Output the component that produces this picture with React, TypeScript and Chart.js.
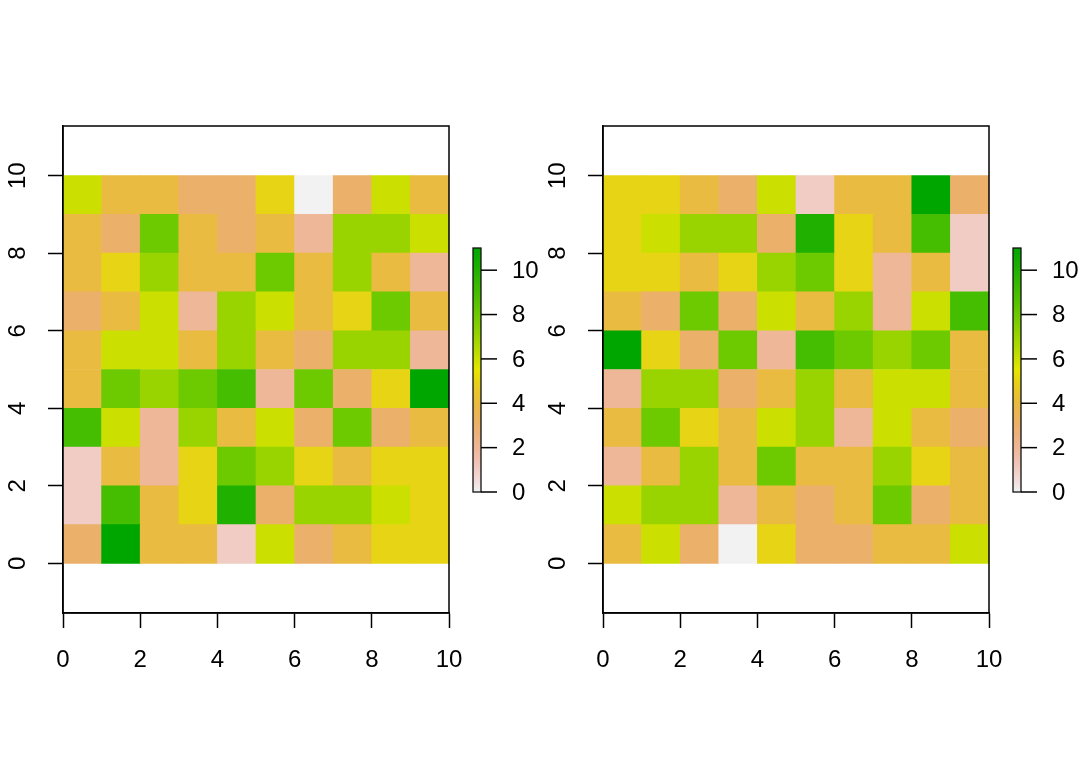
import React, { useEffect, useRef } from "react";
import { Chart, registerables } from "chart.js";
Chart.register(...registerables);

// cell left edges (x) and cell bottom edges (y, top row first)
const cellX = [0, 1, 2, 3, 4, 5, 6, 7, 8, 9];
const cellY = [9, 8, 7, 6, 5, 4, 3, 2, 1, 0];

const leftValues = [
  [6, 4, 4, 3, 3, 5, 0, 3, 6, 4],
  [4, 3, 8, 4, 3, 4, 2, 7, 7, 6],
  [4, 5, 7, 4, 4, 8, 4, 7, 4, 2],
  [3, 4, 6, 2, 7, 6, 4, 5, 8, 4],
  [4, 6, 6, 4, 7, 4, 3, 7, 7, 2],
  [4, 8, 7, 8, 9, 2, 8, 3, 5, 11],
  [9, 6, 2, 7, 4, 6, 3, 8, 3, 4],
  [1, 4, 2, 5, 8, 7, 5, 4, 5, 5],
  [1, 9, 4, 5, 10, 3, 7, 7, 6, 5],
  [3, 11, 4, 4, 1, 6, 3, 4, 5, 5],
];

const rightValues = [
  [5, 5, 4, 3, 6, 1, 4, 4, 11, 3],
  [5, 6, 7, 7, 3, 10, 5, 4, 9, 1],
  [5, 5, 4, 5, 7, 8, 5, 2, 4, 1],
  [4, 3, 8, 3, 6, 4, 7, 2, 6, 9],
  [11, 5, 3, 8, 2, 9, 8, 7, 8, 4],
  [2, 7, 7, 3, 4, 7, 4, 6, 6, 4],
  [4, 8, 5, 4, 6, 7, 2, 6, 4, 3],
  [2, 4, 7, 4, 8, 4, 4, 7, 5, 4],
  [6, 7, 7, 2, 4, 3, 4, 8, 3, 4],
  [4, 6, 3, 0, 5, 3, 3, 4, 4, 6],
];

const axisTicks = [0, 2, 4, 6, 8, 10];
const legendTicks = [0, 2, 4, 6, 8, 10];
const zMin = 0;
const zMax = 11;
const xMin = 0;
const xMax = 10;
const yMin = -1.28;
const yMax = 11.28;

const FONT = "'Liberation Sans', Arial, Helvetica, sans-serif";
const FONT_SIZE = 24;

function hsvToRgb(h: number, s: number, v: number): string {
  const c = v * s;
  const hp = h / 60;
  const x = c * (1 - Math.abs((hp % 2) - 1));
  let r = 0, g = 0, b = 0;
  if (hp < 1) { r = c; g = x; }
  else if (hp < 2) { r = x; g = c; }
  else if (hp < 3) { g = c; b = x; }
  else if (hp < 4) { g = x; b = c; }
  else if (hp < 5) { r = x; b = c; }
  else { r = c; b = x; }
  const m = v - c;
  const to = (n: number) => Math.round((n + m) * 255);
  return `rgb(${to(r)},${to(g)},${to(b)})`;
}

// R terrain.colors, reversed (low = light grey, high = green)
function terrainColor(v: number): string {
  const t = Math.min(1, Math.max(0, (v - zMin) / (zMax - zMin)));
  const p = 1 - t;
  if (p <= 0.5) {
    const q = p / 0.5;
    return hsvToRgb(120 - 60 * q, 1, 0.65 + 0.25 * q);
  }
  const q = (p - 0.5) / 0.5;
  return hsvToRgb(60 - 60 * q, 1 - q, 0.9 + 0.05 * q);
}

const framePlugin = {
  id: "frame",
  afterDraw(chart: any) {
    const ctx = chart.ctx;
    const a = chart.chartArea;
    ctx.save();
    ctx.strokeStyle = "#000";
    ctx.lineWidth = 1.5;
    ctx.strokeRect(a.left, a.top, a.right - a.left, a.bottom - a.top);

    // rotated y tick labels
    const ys = chart.scales.y;
    ctx.fillStyle = "#000";
    ctx.font = `${FONT_SIZE}px ${FONT}`;
    ctx.textAlign = "center";
    ctx.textBaseline = "alphabetic";
    axisTicks.forEach((t) => {
      const py = ys.getPixelForValue(t);
      ctx.save();
      ctx.translate(a.left - 38, py);
      ctx.rotate(-Math.PI / 2);
      ctx.fillText(String(t), 0, 0);
      ctx.restore();
    });

    // colour legend
    const barL = a.right + 24;
    const barW = 8;
    const lTop = 248;
    const lBot = 492;
    const grad = ctx.createLinearGradient(0, lBot, 0, lTop);
    const steps = 60;
    for (let i = 0; i <= steps; i++) {
      const v = zMin + (i / steps) * (zMax - zMin);
      grad.addColorStop(i / steps, terrainColor(v));
    }
    ctx.fillStyle = grad;
    ctx.fillRect(barL, lTop, barW, lBot - lTop);
    ctx.strokeStyle = "#111";
    ctx.lineWidth = 1.3;
    ctx.strokeRect(barL, lTop, barW, lBot - lTop);
    ctx.strokeStyle = "#000";
    ctx.lineWidth = 1.5;
    ctx.fillStyle = "#000";
    ctx.textAlign = "left";
    ctx.textBaseline = "middle";
    legendTicks.forEach((t) => {
      const py = lBot - ((t - zMin) / (zMax - zMin)) * (lBot - lTop);
      ctx.beginPath();
      ctx.moveTo(barL + barW, py);
      ctx.lineTo(barL + barW + 16, py);
      ctx.stroke();
      ctx.fillText(String(t), barL + barW + 31, py + 1);
    });
    ctx.restore();
  },
};

function Panel({ values, left }: { values: number[][]; left: number }) {
  const ref = useRef<HTMLCanvasElement | null>(null);
  useEffect(() => {
    if (!ref.current) return;
    const data: any[] = [];
    const colors: string[] = [];
    values.forEach((row, ri) =>
      row.forEach((v, ci) => {
        data.push({ x: [cellX[ci], cellX[ci] + 1], y: cellY[ri] + 0.5 });
        colors.push(terrainColor(v));
      })
    );
    const gridOpts = {
      display: true,
      drawOnChartArea: false,
      drawTicks: true,
      tickLength: 15,
      tickColor: "#000",
      tickWidth: 1.5,
      offset: false,
    };
    const chart = new Chart(ref.current, {
      type: "bar",
      data: {
        datasets: [
          {
            data,
            backgroundColor: colors,
            borderWidth: 0,
            borderSkipped: false,
            barPercentage: 1,
            categoryPercentage: 1,
            grouped: false,
          } as any,
        ],
      },
      options: {
        indexAxis: "y",
        responsive: false,
        animation: false,
        events: [],
        layout: { padding: { left: 0, top: 126, right: 91, bottom: 0 } },
        plugins: { legend: { display: false }, tooltip: { enabled: false } },
        scales: {
          x: {
            type: "linear",
            position: "bottom",
            min: xMin,
            max: xMax,
            offset: false,
            afterBuildTicks: (s: any) => {
              s.ticks = axisTicks.map((v) => ({ value: v }));
            },
            ticks: {
              stepSize: 2,
              color: "#000",
              font: { family: FONT, size: FONT_SIZE },
              padding: 18,
              maxRotation: 0,
              minRotation: 0,
            },
            grid: gridOpts,
            border: { display: true, color: "#000", width: 1.5 },
            afterFit: (s: any) => {
              s.height = 158;
            },
          },
          y: {
            type: "linear",
            position: "left",
            min: yMin,
            max: yMax,
            offset: false,
            afterBuildTicks: (s: any) => {
              s.ticks = axisTicks.map((v) => ({ value: v }));
            },
            ticks: { display: false, stepSize: 2, includeBounds: false },
            grid: gridOpts,
            border: { display: true, color: "#000", width: 1.5 },
            afterFit: (s: any) => {
              s.width = 63;
            },
          },
        } as any,
      },
      plugins: [framePlugin],
    });
    return () => chart.destroy();
  }, [values]);
  return (
    <canvas
      ref={ref}
      width={540}
      height={771}
      style={{ position: "absolute", left, top: 0, width: 540, height: 771 }}
    />
  );
}

export default function App() {
  return (
    <div
      style={{
        position: "absolute",
        left: 0,
        top: 0,
        width: 1080,
        height: 771,
        background: "#fff",
        overflow: "hidden",
      }}
    >
      <Panel values={leftValues} left={0} />
      <Panel values={rightValues} left={540} />
    </div>
  );
}
